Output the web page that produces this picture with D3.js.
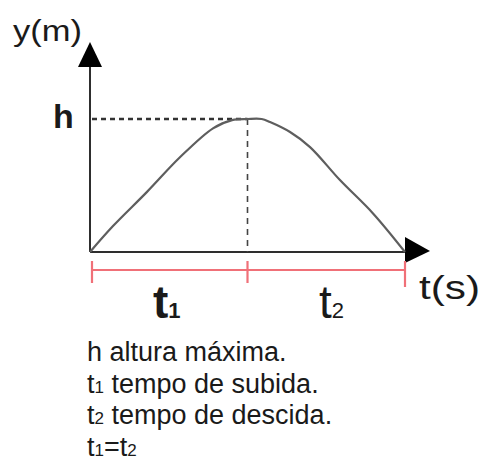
<!DOCTYPE html>
<html>
<head>
<meta charset="utf-8">
<script src="https://cdn.jsdelivr.net/npm/d3@7"></script>
<style>
  html, body { margin: 0; padding: 0; background: #fff; }
  svg { display: block; }
  text { font-family: "Liberation Sans", Arial, sans-serif; fill: #1a1a1a; }
</style>
</head>
<body>
<svg id="chart" width="483" height="464"></svg>
<script>
// Height of a projectile over time: rises during t1, falls during t2 (t1 = t2)
const timeS   = [0, 0.146, 0.362, 0.571, 0.781, 0.902, 1.0, 1.09, 1.143, 1.27, 1.397, 1.587, 1.797, 2.0];
const heightM = [0, 0.195, 0.452, 0.712, 0.93, 0.992, 1.0, 1.0, 0.977, 0.902, 0.789, 0.541, 0.29, 0];

const tMarks  = [0, 1, 2];          // start, top (t1 end), landing (t2 end)
const hMax    = 1;                  // maximum height h
const phaseLabels = [
  { from: 0, to: 1, base: "t", sub: "1", weight: "bold" },
  { from: 1, to: 2, base: "t", sub: "2", weight: "normal" }
];
const notes = [
  [{ s: "h altura máxima." }],
  [{ s: "t" }, { s: "1", sub: true }, { s: " tempo de subida." }],
  [{ s: "t" }, { s: "2", sub: true }, { s: " tempo de descida." }],
  [{ s: "t" }, { s: "1", sub: true }, { s: "=t" }, { s: "2", sub: true }]
];

const svg = d3.select("#chart");
const x = d3.scaleLinear().domain([0, 2]).range([90, 405]);
const y = d3.scaleLinear().domain([0, 1]).range([252, 119]);

const axisColor = "#2e2e2e";

// axes
svg.append("line").attr("x1", x(0)).attr("x2", x(0))
  .attr("y1", y(0)).attr("y2", 64)
  .attr("stroke", axisColor).attr("stroke-width", 2);
svg.append("path").attr("d", `M${x(0)},42 L${x(0) - 12},67 L${x(0) + 12},67 Z`).attr("fill", "#000");

svg.append("line").attr("x1", x(0)).attr("x2", 408)
  .attr("y1", y(0)).attr("y2", y(0))
  .attr("stroke", axisColor).attr("stroke-width", 2);
svg.append("path").attr("d", `M430,${y(0) - 1} L405,237 L405,263 Z`).attr("fill", "#000");

// guide lines to the top point
svg.append("line").attr("x1", x(0) + 2).attr("x2", x(1))
  .attr("y1", y(hMax)).attr("y2", y(hMax))
  .attr("stroke", "#333").attr("stroke-width", 2.5).attr("stroke-dasharray", "5,4");
svg.append("line").attr("x1", x(1)).attr("x2", x(1))
  .attr("y1", y(hMax)).attr("y2", y(0))
  .attr("stroke", "#444").attr("stroke-width", 1.6).attr("stroke-dasharray", "6,5");

// trajectory
const pts = timeS.map((t, i) => [t, heightM[i]]);
svg.append("path").datum(pts)
  .attr("d", d3.line().x(d => x(d[0])).y(d => y(d[1])).curve(d3.curveCatmullRom.alpha(0.5)))
  .attr("fill", "none").attr("stroke", "#5e5e5e").attr("stroke-width", 2.2);

// time intervals bar
const barY = 270;
svg.append("line").attr("x1", x(tMarks[0]) + 2).attr("x2", x(tMarks[2]))
  .attr("y1", barY).attr("y2", barY)
  .attr("stroke", "#f07078").attr("stroke-width", 2.2);
svg.selectAll(".tick-mark").data(tMarks).enter().append("line")
  .attr("x1", d => x(d) + (d === 0 ? 2 : 0)).attr("x2", d => x(d) + (d === 0 ? 2 : 0))
  .attr("y1", 261).attr("y2", (d, i) => i === 2 ? 287 : 283)
  .attr("stroke", "#f07078").attr("stroke-width", 2.2);

// interval labels
phaseLabels.forEach((p, i) => {
  const cx = i === 0 ? 153 : 319;
  const t = svg.append("text").attr("x", cx).attr("y", 318);
  t.append("tspan").text(p.base).attr("font-size", 46).attr("font-weight", p.weight);
  t.append("tspan").text(p.sub).attr("font-size", 22).attr("font-weight", p.weight);
});

// axis titles
svg.append("text").attr("x", 13).attr("y", 41).attr("font-size", 30)
  .attr("textLength", 69).attr("lengthAdjust", "spacingAndGlyphs").text("y(m)");
svg.append("text").attr("x", 419).attr("y", 299).attr("font-size", 34)
  .attr("textLength", 61).attr("lengthAdjust", "spacingAndGlyphs").text("t(s)");
svg.append("text").attr("x", 53).attr("y", y(hMax) + 9).attr("font-size", 34)
  .attr("font-weight", "bold").text("h");

// notes
notes.forEach((line, i) => {
  const t = svg.append("text").attr("x", 87).attr("y", 361 + i * 31.5).attr("font-size", 27);
  line.forEach(part => {
    t.append("tspan").text(part.s).attr("font-size", part.sub ? 17 : 27);
  });
});
</script>
</body>
</html>
